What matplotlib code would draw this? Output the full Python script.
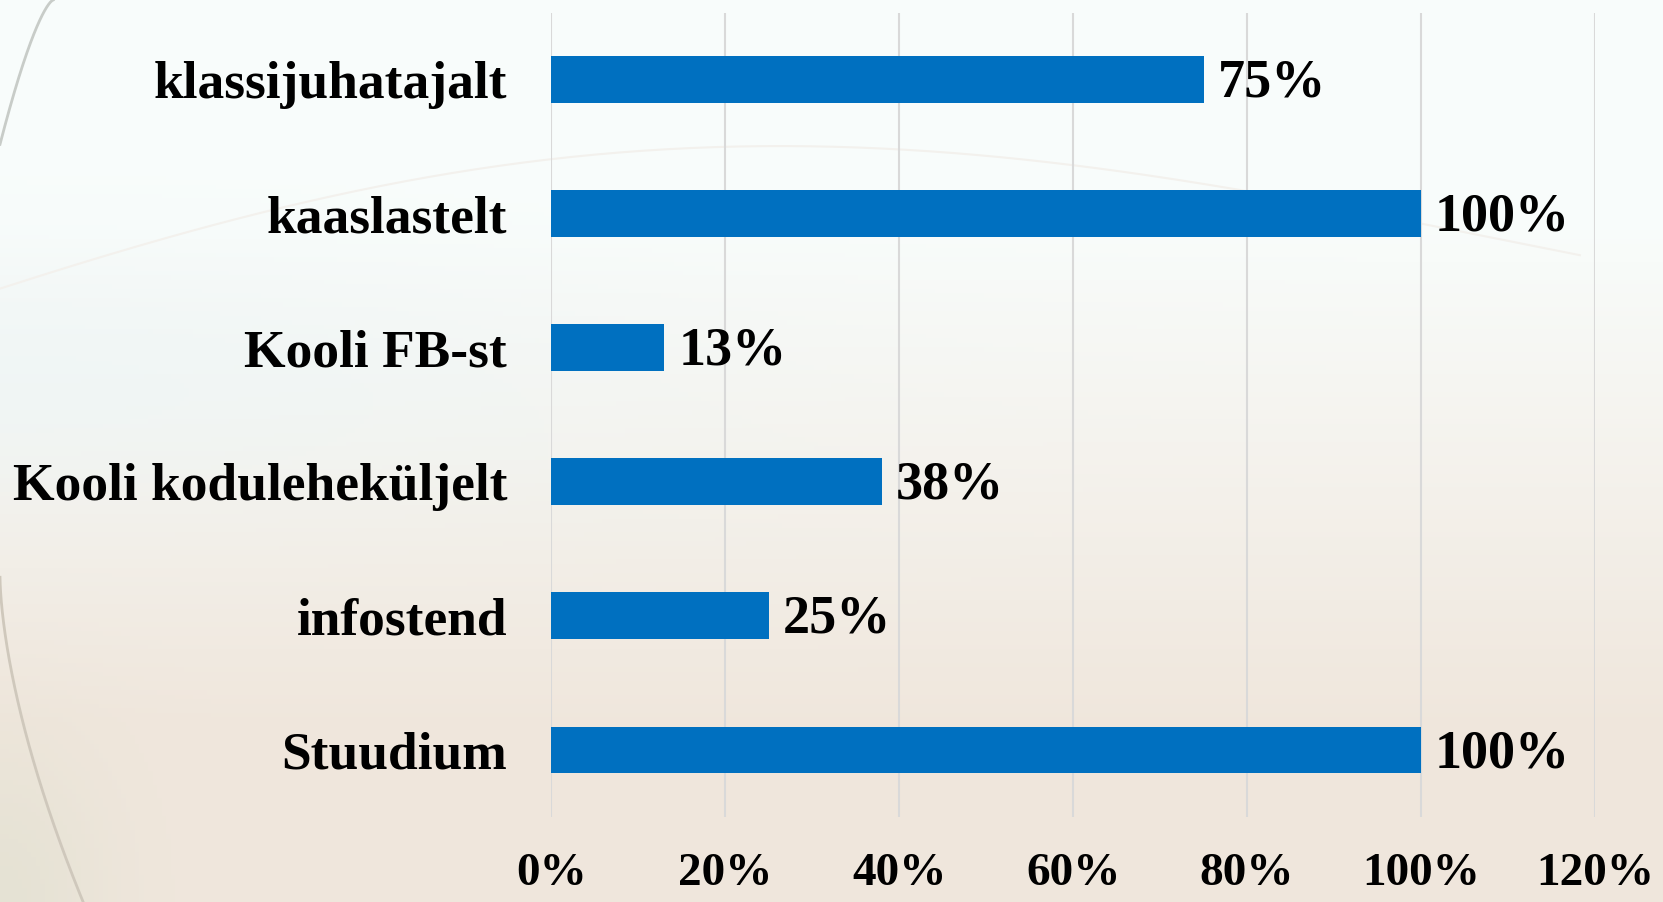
import matplotlib.pyplot as plt
import numpy as np
from matplotlib.ticker import FuncFormatter

# Data (top to bottom as shown)
categories = ['klassijuhatajalt', 'kaaslastelt', 'Kooli FB-st',
              'Kooli koduleheküljelt', 'infostend', 'Stuudium']
values = [75, 100, 13, 38, 25, 100]
value_labels = ['75%', '100%', '13%', '38%', '25%', '100%']
x_ticks = [0, 20, 40, 60, 80, 100, 120]

BAR_COLOR = '#0070C0'
GRID_COLOR = '#D9D9D9'
FONT = ['Liberation Serif', 'DejaVu Serif']

fig = plt.figure(figsize=(16.63, 9.02), dpi=100)

# Background: soft slide-style gradient
bg = fig.add_axes([0, 0, 1, 1], zorder=-10)
h, w = 200, 370
yy, xx = np.mgrid[0:1:h * 1j, 0:1:w * 1j]
top = np.array([0.975, 0.99, 0.985])
mid = np.array([0.93, 0.965, 0.97])
bot = np.array([0.94, 0.905, 0.865])
t = np.clip((yy - 0.25) / 0.55, 0, 1)[..., None]
img = (1 - t) * top + t * bot
cyan = np.exp(-((yy - 0.42) ** 2) / 0.02 - (xx ** 2) / 0.15)[..., None]
img = img * (1 - 0.6 * cyan) + mid * 0.6 * cyan
green = np.exp(-((yy - 1.0) ** 2) / 0.03 - (xx ** 2) / 0.004)[..., None]
img = img * (1 - 0.5 * green) + np.array([0.86, 0.87, 0.8]) * 0.5 * green
bg.imshow(img, extent=[0, 1, 0, 1], aspect='auto', origin='upper')
# decorative arcs
s = np.linspace(0, 1, 200)
bg.plot(0.032 - 0.032 * s ** 0.7, 1 - 0.16 * s, color='#c8ccc8', lw=2)
bg.plot(0.0 + 0.05 * s ** 1.6, 0.36 - 0.36 * s, color='#cfc8bc', lw=2)
bg.plot(0.0 + 0.95 * s, 0.68 + 0.2 * np.sin(np.pi * s * 0.9) * (1 - s * 0.4),
        color='#f3f1ed', lw=1.5)
bg.set_xlim(0, 1)
bg.set_ylim(0, 1)
bg.axis('off')

ax = fig.add_axes([0.3316, 0.0942, 0.6274, 0.8917])
ax.patch.set_alpha(0)

y_pos = np.arange(len(categories))
bars = ax.barh(y_pos, values, height=0.35, color=BAR_COLOR, zorder=3)

for bar, lab in zip(bars, value_labels):
    ax.text(bar.get_width() + 1.6, bar.get_y() + bar.get_height() / 2 + 0.03, lab,
            ha='left', va='center', fontsize=39, fontweight='bold',
            family=FONT, color='black', zorder=4)

ax.set_ylim(len(categories) - 0.5, -0.5)
ax.set_xlim(0, 120)
ax.set_yticks(y_pos)
ax.set_yticklabels(categories, fontsize=38.5, fontweight='bold', family=FONT)
ax.set_xticks(x_ticks)
ax.xaxis.set_major_formatter(FuncFormatter(lambda v, p: f'{int(v)}%'))
for lab in ax.get_xticklabels():
    lab.set_fontsize(34)
    lab.set_fontweight('bold')
    lab.set_family(FONT)
ax.tick_params(axis='both', length=0)
ax.tick_params(axis='y', pad=32)
ax.tick_params(axis='x', pad=26)
ax.grid(True, axis='x', color=GRID_COLOR, linewidth=1.5, zorder=0)
for sp in ax.spines.values():
    sp.set_visible(False)

fig.savefig('out.png', dpi=100)
